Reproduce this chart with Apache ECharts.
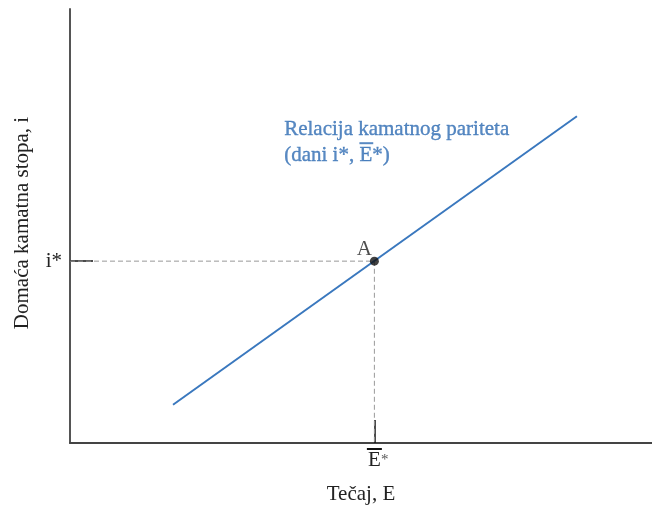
<!DOCTYPE html>
<html><head><meta charset="utf-8">
<script src="https://cdn.jsdelivr.net/npm/echarts@6/dist/echarts.min.js"></script>
<style>html,body{margin:0;padding:0;background:#fff}#c{width:652px;height:509px}</style>
</head><body><div id="c"></div>
<script>
// Data (abstract units, axes 0..100)
const eStar = 52.3;        // E-bar*
const iStar = 41.9;        // i*
const parityLine = [[17.7, 8.8], [87.1, 75.3]];   // interest parity relation
const pointA = [[eStar, iStar]];
const guideLine = [[0, iStar], [eStar, iStar], [eStar, 0]];
const annotationAt = [[36.8, 75.3]];
const xTickLabels = ['E*'];
const yTickLabels = ['i*'];
const xTitle = 'Tečaj, E';
const yTitle = 'Domaća kamatna stopa, i';
const noteLine1 = 'Relacija kamatnog pariteta';
const noteLine2 = ['(dani i*, ', 'E', '*)'];

const FONT = '"Liberation Serif", "Times New Roman", serif';
const FS = 21;
const BLUE = '#3a78be';
const TBLUE = '#2e6bb3';

// measure text widths for overline placement
const mc = document.createElement('canvas').getContext('2d');
mc.font = FS + 'px "Liberation Serif"';
const wPre = mc.measureText(noteLine2[0]).width;
const wE = mc.measureText(noteLine2[1]).width;

const tb = {textBorderColor: TBLUE, textBorderWidth: 0.35};

const chart = echarts.init(document.getElementById('c'), null, {renderer: 'canvas'});
chart.setOption({
  animation: false,
  grid: {left: 70, right: 0, top: 9, bottom: 66, outerBoundsMode: 'none', containLabel: false},
  xAxis: {
    type: 'value', min: 0, max: 100,
    splitLine: {show: false},
    axisLine: {show: true, lineStyle: {color: '#444', width: 2}},
    axisTick: {show: true, inside: true, length: 23, customValues: [eStar], lineStyle: {color: '#111', width: 1.5}},
    axisLabel: {
      show: true, customValues: [eStar], margin: 5,
      formatter: () => '{o|}\n{sp|}{e|' + xTickLabels[0].charAt(0) + '}{s|' + xTickLabels[0].slice(1) + '}',
      rich: {
        o: {width: 15, height: 2, backgroundColor: '#111', lineHeight: 2},
        sp: {width: 8, height: 2},
        e: {fontFamily: FONT, fontSize: FS, color: '#222', lineHeight: 20},
        s: {fontFamily: FONT, fontSize: 15, color: '#555', lineHeight: 20, width: 8}
      }
    },
    name: xTitle, nameLocation: 'middle', nameGap: 41,
    nameTextStyle: {fontFamily: FONT, fontSize: FS, color: '#222'}
  },
  yAxis: {
    type: 'value', min: 0, max: 100,
    splitLine: {show: false},
    axisLine: {show: true, lineStyle: {color: '#555', width: 2}},
    axisTick: {show: true, inside: true, length: 23, customValues: [iStar], lineStyle: {color: '#111', width: 1.5}},
    axisLabel: {
      show: true, customValues: [iStar], margin: 8,
      formatter: () => yTickLabels[0],
      fontFamily: FONT, fontSize: FS, color: '#222'
    },
    name: yTitle, nameLocation: 'middle', nameGap: 37, nameRotate: 90,
    nameTextStyle: {fontFamily: FONT, fontSize: FS, color: '#222', padding: [0, 0, 0, 6]}
  },
  series: [
    {type: 'line', data: guideLine, symbol: 'none', silent: true,
     lineStyle: {color: '#999', width: 1, type: [5, 3]}, z: 1},
    {type: 'line', data: parityLine, symbol: 'none', silent: true,
     lineStyle: {color: BLUE, width: 2}, z: 2},
    {type: 'scatter', data: pointA, symbolSize: 9, itemStyle: {color: '#111'}, z: 3,
     label: {show: true, position: 'top', offset: [-10, 8], formatter: 'A',
       fontFamily: FONT, fontSize: FS, color: '#222'}},
    {type: 'scatter', data: annotationAt, symbolSize: 0, z: 4, silent: true,
     label: {show: true, position: [0, 0], align: 'left', verticalAlign: 'top',
       formatter: () => '{t1|' + noteLine1 + '}\n{gap|}{bar|}\n{t|' + noteLine2.join('') + '}',
       rich: {
         t1: Object.assign({fontFamily: FONT, fontSize: FS, color: TBLUE, lineHeight: 26}, tb),
         gap: {width: wPre, height: 2, lineHeight: 2},
         bar: {width: wE + 1, height: 2, lineHeight: 2, backgroundColor: TBLUE},
         t: Object.assign({fontFamily: FONT, fontSize: FS, color: TBLUE, lineHeight: 23}, tb)
       }}}
  ]
});
</script></body></html>
